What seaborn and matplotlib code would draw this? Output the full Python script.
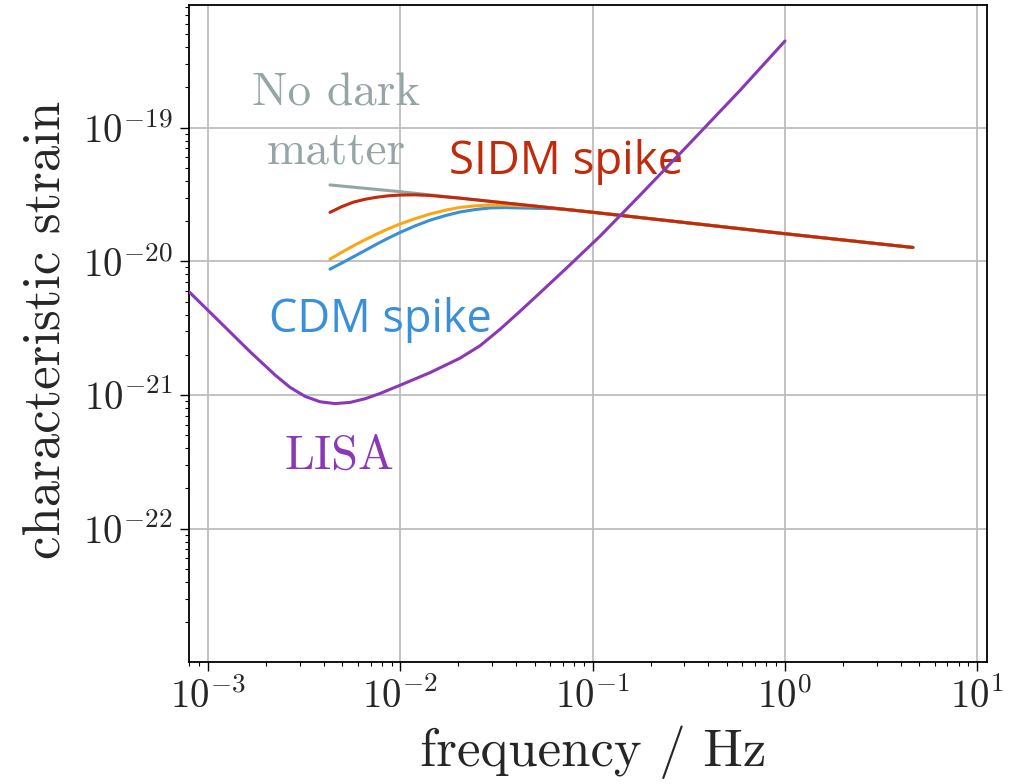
import numpy as np
import pandas as pd
import matplotlib
matplotlib.use("Agg")
import matplotlib.pyplot as plt
import seaborn as sns
from matplotlib.ticker import LogLocator, NullFormatter

# ---- data: characteristic strain vs. gravitational-wave frequency ----
freq_no_dm = [4.31e-3, 1.0e-2, 0.1, 1.0, 4.63]
strain_no_dm = [3.73e-20, 3.32e-20, 2.33e-20, 1.61e-20, 1.27e-20]

freq_sidm = [4.309e-3, 4.958e-3, 5.697e-3, 6.552e-3, 7.54e-3, 8.63e-3,
             9.96e-3, 1.192e-2, 1.427e-2, 1.708e-2, 2.044e-2, 0.1, 1.0, 4.63]
strain_sidm = [2.325e-20, 2.566e-20, 2.772e-20, 2.914e-20, 3.017e-20, 3.091e-20,
               3.134e-20, 3.145e-20, 3.112e-20, 3.038e-20, 2.97e-20,
               2.33e-20, 1.61e-20, 1.27e-20]

freq_cdm_b = [4.309e-3, 4.958e-3, 5.697e-3, 6.552e-3, 7.54e-3, 8.63e-3,
              9.96e-3, 1.192e-2, 1.427e-2, 1.708e-2, 2.044e-2, 2.446e-2,
              2.927e-2, 3.504e-2, 4.195e-2, 5.12e-2, 0.1, 1.0, 4.63]
strain_cdm_b = [1.039e-20, 1.168e-20, 1.307e-20, 1.450e-20, 1.600e-20, 1.750e-20,
                1.902e-20, 2.085e-20, 2.262e-20, 2.410e-20, 2.535e-20, 2.602e-20,
                2.64e-20, 2.638e-20, 2.61e-20, 2.582e-20, 2.33e-20, 1.61e-20, 1.27e-20]

freq_cdm = [4.309e-3, 4.958e-3, 5.697e-3, 6.552e-3, 7.54e-3, 8.63e-3,
            9.96e-3, 1.192e-2, 1.427e-2, 1.708e-2, 2.044e-2, 2.446e-2,
            2.927e-2, 3.504e-2, 4.195e-2, 5.12e-2, 6.25e-2, 7.63e-2,
            0.1, 1.0, 4.63]
strain_cdm = [8.74e-21, 9.71e-21, 1.081e-20, 1.205e-20, 1.346e-20, 1.488e-20,
              1.645e-20, 1.841e-20, 2.032e-20, 2.196e-20, 2.341e-20, 2.440e-20,
              2.51e-20, 2.526e-20, 2.51e-20, 2.494e-20, 2.482e-20, 2.429e-20,
              2.33e-20, 1.61e-20, 1.27e-20]

freq_lisa = [7.96e-4, 1.155e-3, 1.653e-3, 2.231e-3, 2.669e-3, 3.194e-3,
             3.823e-3, 4.575e-3, 5.476e-3, 6.552e-3, 7.842e-3, 9.96e-3,
             1.427e-2, 2.044e-2, 2.597e-2, 3.300e-2, 4.195e-2, 5.33e-2,
             7.63e-2, 0.1093, 0.1764, 0.3210, 0.5841, 1.0]
strain_lisa = [5.93e-21, 3.507e-21, 2.110e-21, 1.412e-21, 1.141e-21, 9.77e-22,
               8.90e-22, 8.62e-22, 8.80e-22, 9.37e-22, 1.026e-21, 1.182e-21,
               1.470e-21, 1.886e-21, 2.336e-21, 3.102e-21, 4.234e-21, 5.82e-21,
               9.43e-21, 1.543e-20, 3.124e-20, 7.676e-20, 1.902e-19, 4.45e-19]

x_ticks = [1e-3, 1e-2, 1e-1, 1e0, 1e1]
y_ticks = [1e-22, 1e-21, 1e-20, 1e-19]

colors = {
    "no_dm": "#95a5a6",
    "cdm": "#3a8fd9",
    "cdm_b": "#fba714",
    "sidm": "#c22a0c",
    "lisa": "#8a38b8",
}

# ---- style ----
sns.set_style("ticks")
plt.rcParams.update({
    "font.family": "cmr10",
    "mathtext.fontset": "cm",
    "axes.unicode_minus": False,
    "axes.formatter.use_mathtext": True,
})

fig = plt.figure(figsize=(10.32, 7.84), dpi=100)
ax = fig.add_axes([0.1831, 0.1560, 0.7730, 0.8376])
ax.set_xscale("log")
ax.set_yscale("log")

curves = [
    ("no_dm", freq_no_dm, strain_no_dm),
    ("cdm", freq_cdm, strain_cdm),
    ("cdm_b", freq_cdm_b, strain_cdm_b),
    ("sidm", freq_sidm, strain_sidm),
    ("lisa", freq_lisa, strain_lisa),
]
for z, (name, f, h) in enumerate(curves):
    df = pd.DataFrame({"frequency": f, "strain": h})
    sns.lineplot(data=df, x="frequency", y="strain", ax=ax, color=colors[name],
                 linewidth=2.2, estimator=None, sort=False, zorder=3 + z,
                 solid_joinstyle="round", solid_capstyle="round")

ax.set_xlim(7.96e-4, 11.2)
ax.set_ylim(1.01e-23, 8.28e-19)

ax.xaxis.set_minor_locator(LogLocator(base=10, subs=np.arange(2, 10), numticks=200))
ax.yaxis.set_minor_locator(LogLocator(base=10, subs=np.arange(2, 10), numticks=200))
ax.xaxis.set_minor_formatter(NullFormatter())
ax.yaxis.set_minor_formatter(NullFormatter())
ax.set_xticks(x_ticks)
ax.set_yticks(y_ticks)

ax.grid(True, which="major", color="#bdbdbd", linewidth=1.3, zorder=0)
ax.set_axisbelow(True)
for sp in ax.spines.values():
    sp.set_color("black")
    sp.set_linewidth(1.3)

ax.tick_params(which="major", direction="out", length=6.5, width=1.0,
               labelsize=28, pad=5, color="black")
ax.tick_params(which="minor", direction="out", length=3.2, width=0.8, color="black")

ax.set_xlabel("frequency / Hz", fontsize=38)
ax.set_ylabel("characteristic strain", fontsize=38)
ax.xaxis.set_label_coords(0.507, -0.097)
ax.yaxis.set_label_coords(-0.148, 0.505)

# ---- curve annotations ----
serif = "cmr10"
sans = "Open Sans"
ax.text(0.1843, 0.8477, "No dark", transform=ax.transAxes, ha="center",
        va="baseline", fontsize=34, family=serif, color=colors["no_dm"], zorder=2)
ax.text(0.1843, 0.7594, "matter", transform=ax.transAxes, ha="center",
        va="baseline", fontsize=34, family=serif, color=colors["no_dm"], zorder=2)
ax.text(0.3262, 0.7422, "SIDM spike", transform=ax.transAxes, ha="left",
        va="baseline", fontsize=32.8, family=sans, color=colors["sidm"], zorder=2)
ax.text(0.1005, 0.5028, "CDM spike", transform=ax.transAxes, ha="left",
        va="baseline", fontsize=32.5, family=sans, color=colors["cdm"], zorder=2)
ax.text(0.1203, 0.2945, "LISA", transform=ax.transAxes, ha="left",
        va="baseline", fontsize=34.5, family=serif, color=colors["lisa"], zorder=2)

fig.savefig("out.png", dpi=100)
